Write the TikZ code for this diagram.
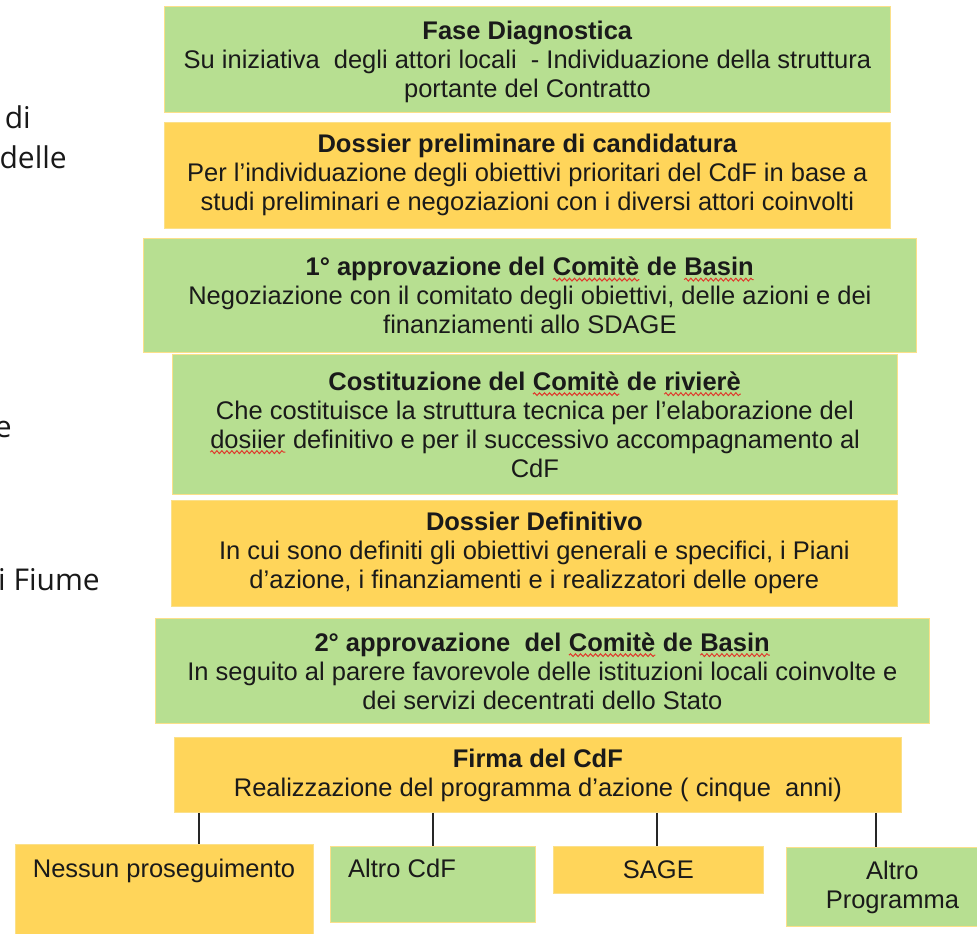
\documentclass[tikz,border=0pt]{standalone}
\usepackage{fontspec}
\setmainfont{Liberation Sans}
\newfontfamily\sidefont{Open Sans}
\usetikzlibrary{decorations.pathmorphing}
\definecolor{gfill}{HTML}{B7DF91}
\definecolor{ofill}{HTML}{FFD55A}
\definecolor{bord}{HTML}{FBE08A}
\definecolor{wavy}{HTML}{E0382C}
\definecolor{ink}{HTML}{1A1A1A}
\newcommand{\squig}[1]{\tikz[baseline=(sqw.base)]{\node[inner sep=0pt,outer sep=0pt,draw=none,fill=none,minimum width=0pt,minimum height=0pt,anchor=base] (sqw) {#1};\draw[wavy,line width=1pt,decorate,decoration={snake,amplitude=1.4pt,segment length=5pt}] ([yshift=-4pt]sqw.base west) -- ([yshift=-4pt]sqw.base east);}}
\tikzset{
  stage/.style={draw=bord, line width=0.8pt, align=center, text=ink,
    font=\fontsize{25.5}{29}\selectfont, inner sep=0pt, anchor=north west},
  gstage/.style={stage, fill=gfill},
  ostage/.style={stage, fill=ofill},
  txt/.style={font=\fontsize{25.5}{29}\selectfont, inner sep=0pt, text=ink},
  link/.style={draw=black!85, line width=1.2pt},
  side/.style={font=\sidefont\fontsize{30}{36}\selectfont, inner sep=0pt, anchor=base east, text=black!90}
}
\begin{document}
\begin{tikzpicture}[x=1pt,y=-1pt]
\useasboundingbox (0,0) rectangle (977,934);
\clip (0,0) rectangle (977,934);
\fill[white] (0,0) rectangle (977,934);

% fragments of a neighbouring column, cut by the left edge
\node[side] (s1) at (31,128) {di};
\node[side] (s2) at (67,168) {delle};
\node[side] (s3) at (12,437) {e};
\node[side] (s4) at (100,590) {i Fiume};

% main stages
\node[gstage, minimum width=726pt, minimum height=106pt] (b1) at (164,6)
  {\rule{0pt}{24pt}\textbf{Fase Diagnostica}\\Su iniziativa\ \ degli attori locali\ \ - Individuazione della struttura\\portante del Contratto};
\node[ostage, minimum width=726pt, minimum height=106pt] (b2) at (164,122)
  {\textbf{Dossier preliminare di candidatura}\\Per l’individuazione degli obiettivi prioritari del CdF in base a\\studi preliminari e negoziazioni con i diversi attori coinvolti};
\node[gstage, minimum width=773pt, minimum height=114pt] (b3) at (143,238)
  {\textbf{1° approvazione del \squig{\textbf{Comitè}} de \squig{\textbf{Basin}}}\\Negoziazione con il comitato degli obiettivi, delle azioni e dei\\finanziamenti allo SDAGE};
\node[gstage, minimum width=725pt, minimum height=140pt] (b4) at (172,354)
  {\textbf{Costituzione del \squig{\textbf{Comitè}} de \squig{\textbf{rivierè}}}\\Che costituisce la struttura tecnica per l’elaborazione del\\\squig{dosiier} definitivo e per il successivo accompagnamento al\\CdF};
\node[ostage, minimum width=726pt, minimum height=106pt] (b5) at (171,500)
  {\textbf{Dossier Definitivo}\\In cui sono definiti gli obiettivi generali e specifici, i Piani\\d’azione, i finanziamenti e i realizzatori delle opere};
\node[gstage, minimum width=774pt, minimum height=105pt] (b6) at (155,618)
  {\textbf{2° approvazione\ \ del \squig{\textbf{Comitè}} de \squig{\textbf{Basin}}}\\In seguito al parere favorevole delle istituzioni locali coinvolte e\\dei servizi decentrati dello Stato};
\node[ostage, minimum width=727pt, minimum height=75pt] (b7) at (174,737)
  {\textbf{Firma del CdF}\\Realizzazione del programma d’azione ( cinque\ \ anni)};

% outcomes
\node[ostage, minimum width=298pt, minimum height=120pt] (c1) at (15,844) {};
\node[txt, anchor=base] (c1t) at (164,877) {Nessun proseguimento};
\node[gstage, minimum width=205pt, minimum height=76pt] (c2) at (330,846) {};
\node[txt, anchor=base west] (c2t) at (348,877) {Altro CdF};
\node[ostage, minimum width=210pt, minimum height=47pt] (c3) at (553,846) {SAGE};
\node[gstage, minimum width=212pt, minimum height=79pt] (c4) at (786,847) {Altro\\Programma};

% connectors
\draw[link] (b7.south -| 199,0) -- (c1.north -| 199,0);
\draw[link] (b7.south -| 433,0) -- (c2.north -| 433,0);
\draw[link] (b7.south -| 657,0) -- (c3.north -| 657,0);
\draw[link] (b7.south -| 876,0) -- (c4.north -| 876,0);
\end{tikzpicture}
\end{document}
